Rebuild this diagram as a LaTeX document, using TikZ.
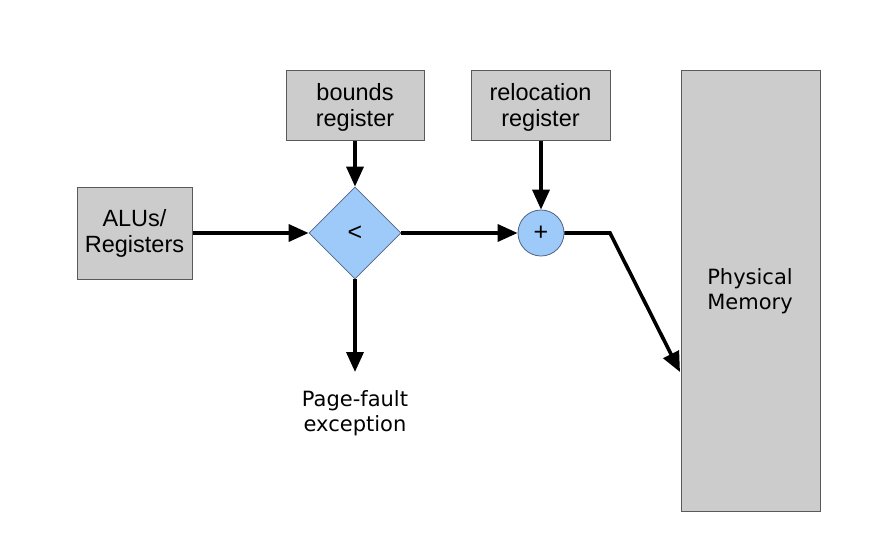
\documentclass[tikz,border=0pt]{standalone}
\usepackage{fontspec}
\setmainfont{Liberation Sans}
\newfontfamily\dvs{DejaVu Sans}
\usetikzlibrary{shapes.geometric,arrows.meta}
\definecolor{boxgray}{RGB}{204,204,204}
\definecolor{boxedge}{RGB}{90,90,90}
\definecolor{opblue}{RGB}{158,202,250}
\definecolor{opedge}{RGB}{80,100,130}
\begin{document}
\begin{tikzpicture}[x=1pt,y=-1pt,
  regbox/.style={draw=boxedge,line width=1pt,fill=boxgray,inner sep=0pt,align=center,font=\fontsize{23.5}{26}\selectfont},
  regtext/.style={inner sep=0pt,align=center,font=\fontsize{23.5}{26}\selectfont},
  opshape/.style={draw=opedge,line width=0.8pt,fill=opblue,inner sep=0pt,font=\fontsize{25}{26}\selectfont},
  conn/.style={line width=3.6pt,-{Triangle[length=20pt,width=17pt]}},
  lbl/.style={align=center,font=\dvs\fontsize{21}{25.5}\selectfont}]
\useasboundingbox (0,0) rectangle (892,544);
\node[regbox,minimum width=115pt,minimum height=92pt] (alu) at (134.5,233) {ALUs/\\Registers};
\node[regbox,minimum width=138pt,minimum height=70pt] (bounds) at (355,105) {};
\node[regtext] (boundslbl) at (355,107) {bounds\\register};
\node[regbox,minimum width=139pt,minimum height=70pt] (reloc) at (540.5,105) {};
\node[regtext] (reloclbl) at (540.5,107) {relocation\\register};
\node[regbox,minimum width=139pt,minimum height=441pt] (mem) at (750.5,290.5) {};
\node[lbl] (memlbl) at (750,291) {Physical\\Memory};
\node[opshape,diamond,minimum width=92pt,minimum height=92pt] (cmp) at (355,233) {<};
\node[opshape,circle,minimum size=46pt] (add) at (541,233) {+};
\node[lbl] (pf) at (355,413) {Page-fault\\exception};
\coordinate (pfend) at (355,372);
\coordinate (bend) at (610,233);
\coordinate (memin) at (680,372);
\draw[conn] (alu.east) -- (cmp.west);
\draw[conn] (bounds.south) -- (cmp.north);
\draw[conn] (cmp.east) -- (add.west);
\draw[conn] (reloc.south -| add.north) -- (add.north);
\draw[conn] (cmp.south) -- (pfend);
\draw[conn,line join=miter] (add.east) -- (bend) -- (memin);
\end{tikzpicture}
\end{document}
